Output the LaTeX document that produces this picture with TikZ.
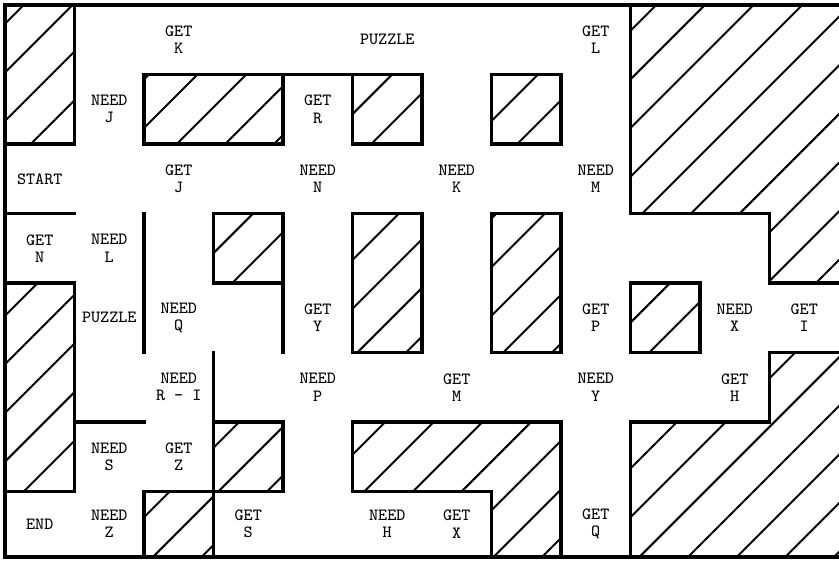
\documentclass[tikz,border=0pt]{standalone}
\usetikzlibrary{calc}

% one cell of the maze = 1 unit, rows counted downwards
\newcommand{\hatchfill}[1]{%
  \begin{scope}
    \clip #1;
    \foreach \k in {0,...,29}
      \draw[hatch] ({0.27+0.7*\k-9},-9) -- ++(10,10);
  \end{scope}}

\begin{document}
\begin{tikzpicture}[
    wall/.style={line width=1.4pt,line cap=rect},
    hatch/.style={line width=0.8pt},
    lbl/.style={font=\ttfamily\fontsize{7}{7}\selectfont,align=center,inner sep=0pt}]
  \useasboundingbox (-0.072,0.072) rectangle (12,-8.015);

  % hatched blocks
  \hatchfill{(0,0) rectangle (1,-2)}
  \hatchfill{(2,-1) rectangle (4,-2)}
  \hatchfill{(5,-1) rectangle (6,-2)}
  \hatchfill{(7,-1) rectangle (8,-2)}
  \hatchfill{(9,0) -- (12,0) -- (12,-4) -- (11,-4) -- (11,-3) -- (9,-3) -- cycle}
  \hatchfill{(3,-3) rectangle (4,-4)}
  \hatchfill{(5,-3) rectangle (6,-5)}
  \hatchfill{(7,-3) rectangle (8,-5)}
  \hatchfill{(9,-4) rectangle (10,-5)}
  \hatchfill{(0,-4) rectangle (1,-7)}
  \hatchfill{(3,-6) rectangle (4,-7)}
  \hatchfill{(2,-7) rectangle (3,-7.94)}
  \hatchfill{(5,-6) -- (8,-6) -- (8,-7.94) -- (7,-7.94) -- (7,-7) -- (5,-7) -- cycle}
  \hatchfill{(11,-5) -- (12,-5) -- (12,-7.94) -- (9,-7.94) -- (9,-6) -- (11,-6) -- cycle}

  % outlines of the blocks
  \draw[wall] (0,0) rectangle (1,-2);
  \draw[wall] (2,-1) rectangle (4,-2);
  \draw[wall] (5,-1) rectangle (6,-2);
  \draw[wall] (7,-1) rectangle (8,-2);
  \draw[wall] (12,-4) -- (11,-4) -- (11,-3) -- (9,-3) -- (9,0);
  \draw[wall] (3,-3) rectangle (4,-4);
  \draw[wall] (5,-3) rectangle (6,-5);
  \draw[wall] (7,-3) rectangle (8,-5);
  \draw[wall] (9,-4) rectangle (10,-5);
  \draw[wall] (0,-4) rectangle (1,-7);
  \draw[wall] (3,-6) rectangle (4,-7);
  \draw[wall] (2,-7.94) -- (2,-7) -- (3,-7);
  \draw[wall] (7,-7.94) -- (7,-7) -- (5,-7) -- (5,-6) -- (8,-6) -- (8,-7.94);
  \draw[wall] (12,-5) -- (11,-5) -- (11,-6) -- (9,-6) -- (9,-7.94);

  % outer border and single walls
  \draw[wall] (12,0) -- (0,0) -- (0,-7.94) -- (12,-7.94);
  \draw[wall] (4,-1) -- (5,-1);
  \draw[wall] (0,-3) -- (1,-3);
  \draw[wall] (1,-6) -- (2,-6);
  \draw[wall] (2,-3) -- (2,-5);
  \draw[wall] (4,-4) -- (4,-5);
  \draw[wall] (3,-5) -- (3,-7.94);

  % rooms
  \node[lbl] (getK)   at (2.5,-0.5)  {GET\\K};
  \node[lbl] (puzA)   at (5.5,-0.5)  {PUZZLE};
  \node[lbl] (getL)   at (8.5,-0.5)  {GET\\L};
  \node[lbl] (needJ)  at (1.5,-1.5)  {NEED\\J};
  \node[lbl] (getR)   at (4.5,-1.5)  {GET\\R};
  \node[lbl] (start)  at (0.5,-2.5)  {START};
  \node[lbl] (getJ)   at (2.5,-2.5)  {GET\\J};
  \node[lbl] (needN)  at (4.5,-2.5)  {NEED\\N};
  \node[lbl] (needK)  at (6.5,-2.5)  {NEED\\K};
  \node[lbl] (needM)  at (8.5,-2.5)  {NEED\\M};
  \node[lbl] (getN)   at (0.5,-3.5)  {GET\\N};
  \node[lbl] (needL)  at (1.5,-3.5)  {NEED\\L};
  \node[lbl] (puzB)   at (1.5,-4.5)  {PUZZLE};
  \node[lbl] (needQ)  at (2.5,-4.5)  {NEED\\Q};
  \node[lbl] (getY)   at (4.5,-4.5)  {GET\\Y};
  \node[lbl] (getP)   at (8.5,-4.5)  {GET\\P};
  \node[lbl] (needX)  at (10.5,-4.5) {NEED\\X};
  \node[lbl] (getI)   at (11.5,-4.5) {GET\\I};
  \node[lbl] (needRI) at (2.5,-5.5)  {NEED\\R - I};
  \node[lbl] (needP)  at (4.5,-5.5)  {NEED\\P};
  \node[lbl] (getM)   at (6.5,-5.5)  {GET\\M};
  \node[lbl] (needY)  at (8.5,-5.5)  {NEED\\Y};
  \node[lbl] (getH)   at (10.5,-5.5) {GET\\H};
  \node[lbl] (needS)  at (1.5,-6.5)  {NEED\\S};
  \node[lbl] (getZ)   at (2.5,-6.5)  {GET\\Z};
  \node[lbl] (finish) at (0.5,-7.47) {END};
  \node[lbl] (needZ)  at (1.5,-7.47) {NEED\\Z};
  \node[lbl] (getS)   at (3.5,-7.47) {GET\\S};
  \node[lbl] (needH)  at (5.5,-7.47) {NEED\\H};
  \node[lbl] (getX)   at (6.5,-7.47) {GET\\X};
  \node[lbl] (getQ)   at (8.5,-7.47) {GET\\Q};
\end{tikzpicture}
\end{document}
